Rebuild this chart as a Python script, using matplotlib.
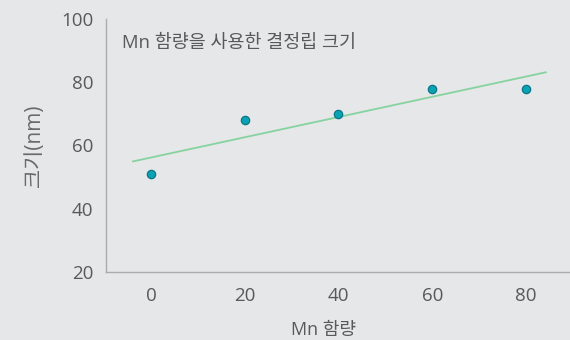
import numpy as np
import matplotlib
matplotlib.use("Agg")
import matplotlib.pyplot as plt

# Grain size vs. Mn content
mn_content = [0, 20, 40, 60, 80]
grain_size = [51, 68, 70, 78, 78]
x_ticks = [0, 20, 40, 60, 80]
y_ticks = [20, 40, 60, 80, 100]

BG = "#e6e7e9"
TEXT = "#595959"
SPINE = "#ababab"

plt.rcParams["font.family"] = ["Open Sans", "Noto Sans CJK KR", "DejaVu Sans"]

fig = plt.figure(figsize=(5.7, 3.4), dpi=100)
fig.patch.set_facecolor(BG)
ax = fig.add_axes([106 / 570, 68 / 340, 464 / 570, 253 / 340])
ax.set_facecolor(BG)

# least-squares trend line across the padded x range
slope, intercept = np.polyfit(mn_content, grain_size, 1)
span = max(mn_content) - min(mn_content)
fit_x = np.array([min(mn_content) - 0.048 * span, max(mn_content) + 0.053 * span])
ax.plot(fit_x, slope * fit_x + intercept, color="#86d3a0", linewidth=1.3, zorder=2)

ax.scatter(mn_content, grain_size, s=36, color="#0aa3b5", edgecolors="#0b7585",
           linewidths=0.9, zorder=3)

ax.set_xlim(-9.6, 89.4)
ax.set_ylim(20, 100)
ax.set_xticks(x_ticks)
ax.set_yticks(y_ticks)
ax.tick_params(length=0, labelsize=13.5, labelcolor=TEXT)
ax.tick_params(axis="x", pad=11)
ax.tick_params(axis="y", pad=9)

for side in ("top", "right"):
    ax.spines[side].set_visible(False)
for side in ("left", "bottom"):
    ax.spines[side].set_color(SPINE)
    ax.spines[side].set_linewidth(1.0)

ax.text(0.035, 0.905, "Mn 함량을 사용한 결정립 크기", transform=ax.transAxes,
        fontsize=13.3, color=TEXT, ha="left", va="center")

ax.set_ylabel("크기(nm)", fontsize=15, color="#6a6a6a", labelpad=12)
ax.set_xlabel("Mn 함량", fontsize=13, color=TEXT, labelpad=10)
ax.xaxis.set_label_coords(0.468, -0.192)

plt.savefig("out.png", dpi=100, facecolor=BG)
plt.close()
